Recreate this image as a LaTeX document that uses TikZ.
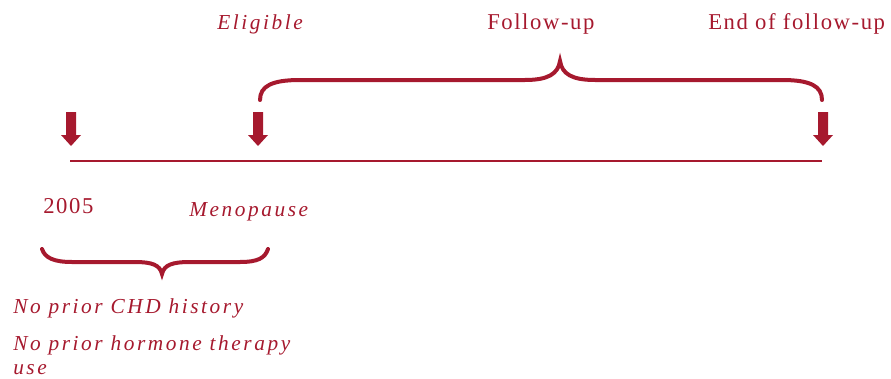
\documentclass[tikz,border=0pt]{standalone}
\usepackage{fontspec}
\setmainfont{Liberation Serif}
\newfontfamily\upspaced[LetterSpace=7]{Liberation Serif}
\newfontfamily\itspaced[LetterSpace=12]{Liberation Serif Italic}
\definecolor{wine}{RGB}{166,25,46}
\begin{document}
\begin{tikzpicture}[x=0.75pt,y=-0.75pt,
  lbl/.style={anchor=base west,inner sep=0pt,text=wine,font=\fontsize{17}{20}\selectfont\upspaced},
  ilbl/.style={anchor=base west,inner sep=0pt,text=wine,font=\fontsize{16}{19}\selectfont\itspaced},
  brace/.style={draw=wine,line width=3pt,line cap=round},
  downarrow/.style={fill=wine,draw=none}]
\useasboundingbox (0,0) rectangle (891,378);
% timeline
\coordinate (tl) at (70,161);
\coordinate (tr) at (822,161);
\draw[wine,line width=1.6pt] (tl) -- (tr);
% arrows
\foreach \ax/\nm in {71/a1,258/a2,823/a3}{
  \fill[downarrow] (\ax-5,112) -- (\ax+5,112) -- (\ax+5,135) -- (\ax+10,135) -- (\ax,146) -- (\ax-10,135) -- (\ax-5,135) -- cycle;
}
% top brace
\draw[brace] (260,100) .. controls (260,86) and (272,80) .. (300,80) -- (525,80)
  .. controls (548,80) and (558,74) .. (560,61)
  .. controls (562,74) and (572,80) .. (595,80) -- (782,80)
  .. controls (810,80) and (822,86) .. (822,100);
% bottom brace
\draw[brace] (42,249) .. controls (45,258) and (54,262) .. (72,262) -- (135,262)
  .. controls (152,262) and (160,265) .. (162,274)
  .. controls (164,265) and (172,262) .. (190,262) -- (240,262)
  .. controls (258,262) and (265,258) .. (268,249);
% labels
\node[ilbl] (elig) at (217,30) {Eligible};
\node[lbl] (fu) at (487,30) {Follow-up};
\node[lbl] (end) at (708,30) {End of follow-up};
\node[lbl] (y2005) at (43,213) {2005};
\node[ilbl] (meno) at (189,216) {Menopause};
\node[ilbl] (chd) at (13,313) {No prior CHD history};
\node[ilbl] (ht) at (13,350) {No prior hormone therapy};
\node[ilbl] (use) at (13,374) {use};
\end{tikzpicture}
\end{document}
